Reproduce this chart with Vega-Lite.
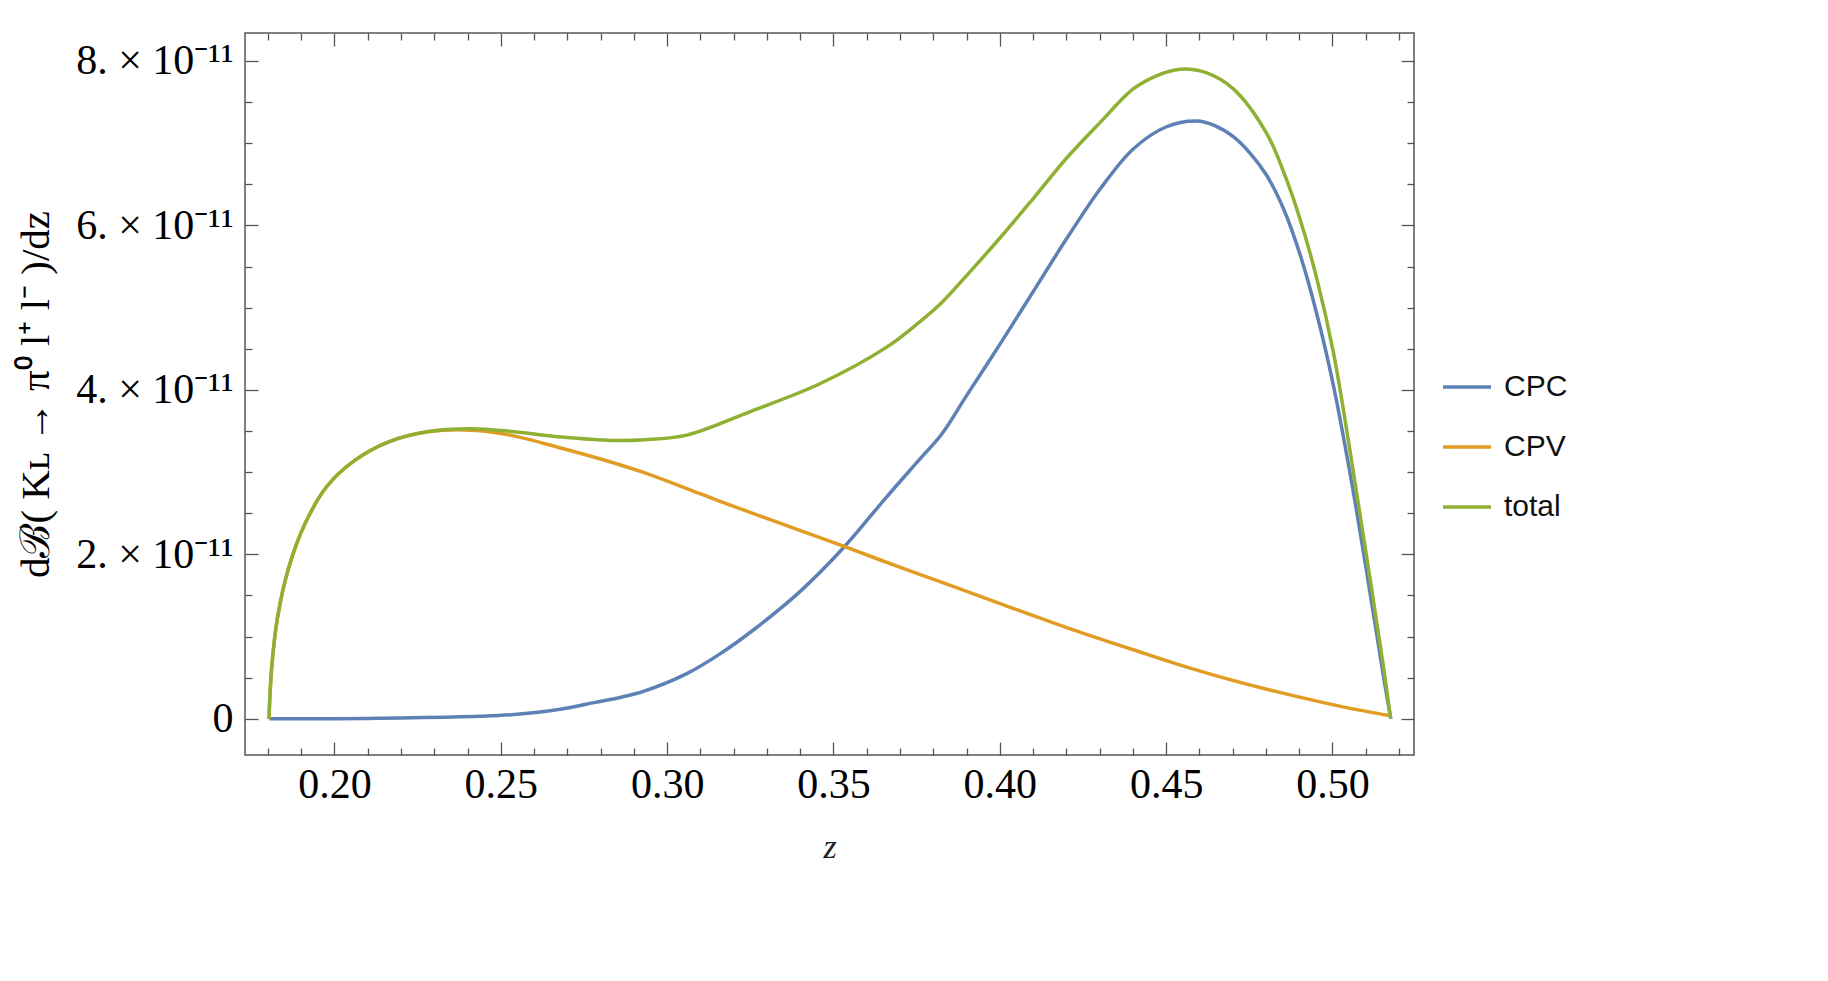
{
  "$schema": "https://vega.github.io/schema/vega-lite/v6.json",
  "width": 1169,
  "height": 722,
  "autosize": {"type": "none"},
  "padding": {"left": 245, "top": 33, "right": 414, "bottom": 226},
  "background": "white",
  "config": {
    "view": {"stroke": "#555555", "strokeWidth": 1.5},
    "axis": {"grid": false, "domain": false, "tickColor": "#555555", "tickWidth": 1.3}
  },
  "data": {"values": [
    {"series": "CPC", "z": 0.1804, "v": 0},
    {"series": "CPC", "z": 0.19, "v": 0},
    {"series": "CPC", "z": 0.20, "v": 0.002},
    {"series": "CPC", "z": 0.21, "v": 0.005},
    {"series": "CPC", "z": 0.22, "v": 0.01},
    {"series": "CPC", "z": 0.233, "v": 0.02},
    {"series": "CPC", "z": 0.2432, "v": 0.03},
    {"series": "CPC", "z": 0.2532, "v": 0.05},
    {"series": "CPC", "z": 0.2683, "v": 0.12},
    {"series": "CPC", "z": 0.2783, "v": 0.2},
    {"series": "CPC", "z": 0.2858, "v": 0.26},
    {"series": "CPC", "z": 0.2933, "v": 0.34},
    {"series": "CPC", "z": 0.3059, "v": 0.55},
    {"series": "CPC", "z": 0.3159, "v": 0.79},
    {"series": "CPC", "z": 0.3259, "v": 1.08},
    {"series": "CPC", "z": 0.34, "v": 1.55},
    {"series": "CPC", "z": 0.353, "v": 2.08},
    {"series": "CPC", "z": 0.366, "v": 2.70},
    {"series": "CPC", "z": 0.376, "v": 3.16},
    {"series": "CPC", "z": 0.3825, "v": 3.46},
    {"series": "CPC", "z": 0.39, "v": 3.93},
    {"series": "CPC", "z": 0.4001, "v": 4.56},
    {"series": "CPC", "z": 0.4101, "v": 5.2},
    {"series": "CPC", "z": 0.4201, "v": 5.84},
    {"series": "CPC", "z": 0.4301, "v": 6.44},
    {"series": "CPC", "z": 0.4401, "v": 6.93},
    {"series": "CPC", "z": 0.4501, "v": 7.2},
    {"series": "CPC", "z": 0.4591, "v": 7.27},
    {"series": "CPC", "z": 0.4646, "v": 7.215},
    {"series": "CPC", "z": 0.4702, "v": 7.08},
    {"series": "CPC", "z": 0.4752, "v": 6.88},
    {"series": "CPC", "z": 0.4802, "v": 6.61},
    {"series": "CPC", "z": 0.4853, "v": 6.2},
    {"series": "CPC", "z": 0.4903, "v": 5.64},
    {"series": "CPC", "z": 0.4953, "v": 4.92},
    {"series": "CPC", "z": 0.5003, "v": 4.05},
    {"series": "CPC", "z": 0.5053, "v": 2.98},
    {"series": "CPC", "z": 0.5103, "v": 1.78},
    {"series": "CPC", "z": 0.5153, "v": 0.52},
    {"series": "CPC", "z": 0.5175, "v": 0},
    {"series": "CPV", "z": 0.1803, "v": 0},
    {"series": "CPV", "z": 0.1811, "v": 0.61},
    {"series": "CPV", "z": 0.1828, "v": 1.213},
    {"series": "CPV", "z": 0.186, "v": 1.805},
    {"series": "CPV", "z": 0.1912, "v": 2.377},
    {"series": "CPV", "z": 0.1978, "v": 2.831},
    {"series": "CPV", "z": 0.2061, "v": 3.143},
    {"series": "CPV", "z": 0.2161, "v": 3.366},
    {"series": "CPV", "z": 0.2282, "v": 3.49},
    {"series": "CPV", "z": 0.2412, "v": 3.51},
    {"series": "CPV", "z": 0.2532, "v": 3.447},
    {"series": "CPV", "z": 0.2683, "v": 3.29},
    {"series": "CPV", "z": 0.2833, "v": 3.12},
    {"series": "CPV", "z": 0.2933, "v": 2.99},
    {"series": "CPV", "z": 0.3059, "v": 2.80},
    {"series": "CPV", "z": 0.3159, "v": 2.645},
    {"series": "CPV", "z": 0.3345, "v": 2.37},
    {"series": "CPV", "z": 0.353, "v": 2.10},
    {"series": "CPV", "z": 0.3695, "v": 1.85},
    {"series": "CPV", "z": 0.386, "v": 1.61},
    {"series": "CPV", "z": 0.4001, "v": 1.40},
    {"series": "CPV", "z": 0.4201, "v": 1.11},
    {"series": "CPV", "z": 0.4401, "v": 0.84},
    {"series": "CPV", "z": 0.4602, "v": 0.58},
    {"series": "CPV", "z": 0.4802, "v": 0.36},
    {"series": "CPV", "z": 0.5003, "v": 0.17},
    {"series": "CPV", "z": 0.5168, "v": 0.04},
    {"series": "total", "z": 0.1803, "v": 0},
    {"series": "total", "z": 0.1811, "v": 0.61},
    {"series": "total", "z": 0.1828, "v": 1.213},
    {"series": "total", "z": 0.186, "v": 1.805},
    {"series": "total", "z": 0.1912, "v": 2.377},
    {"series": "total", "z": 0.1978, "v": 2.831},
    {"series": "total", "z": 0.2061, "v": 3.143},
    {"series": "total", "z": 0.2161, "v": 3.366},
    {"series": "total", "z": 0.2282, "v": 3.495},
    {"series": "total", "z": 0.2412, "v": 3.528},
    {"series": "total", "z": 0.2532, "v": 3.495},
    {"series": "total", "z": 0.2683, "v": 3.426},
    {"series": "total", "z": 0.2833, "v": 3.385},
    {"series": "total", "z": 0.2933, "v": 3.394},
    {"series": "total", "z": 0.3059, "v": 3.45},
    {"series": "total", "z": 0.3259, "v": 3.751},
    {"series": "total", "z": 0.3459, "v": 4.075},
    {"series": "total", "z": 0.366, "v": 4.52},
    {"series": "total", "z": 0.376, "v": 4.83},
    {"series": "total", "z": 0.3825, "v": 5.06},
    {"series": "total", "z": 0.39, "v": 5.39},
    {"series": "total", "z": 0.4001, "v": 5.85},
    {"series": "total", "z": 0.4101, "v": 6.33},
    {"series": "total", "z": 0.4201, "v": 6.82},
    {"series": "total", "z": 0.4301, "v": 7.25},
    {"series": "total", "z": 0.4401, "v": 7.66},
    {"series": "total", "z": 0.4471, "v": 7.82},
    {"series": "total", "z": 0.4542, "v": 7.90},
    {"series": "total", "z": 0.4622, "v": 7.855},
    {"series": "total", "z": 0.4702, "v": 7.66},
    {"series": "total", "z": 0.4802, "v": 7.12},
    {"series": "total", "z": 0.4853, "v": 6.65},
    {"series": "total", "z": 0.4903, "v": 6.07},
    {"series": "total", "z": 0.4953, "v": 5.35},
    {"series": "total", "z": 0.5003, "v": 4.45},
    {"series": "total", "z": 0.5053, "v": 3.25},
    {"series": "total", "z": 0.5103, "v": 1.96},
    {"series": "total", "z": 0.5153, "v": 0.64},
    {"series": "total", "z": 0.5175, "v": 0}
  ]},
  "resolve": {"axis": {"x": "independent", "y": "independent"}},
  "layer": [
    {
      "mark": {"type": "line", "strokeWidth": 3.5, "interpolate": "catmull-rom"},
      "encoding": {
        "x": {
          "field": "z", "type": "quantitative",
          "scale": {"domain": [0.1731, 0.5245], "nice": false, "zero": false},
          "axis": {
            "orient": "bottom",
            "values": [0.18,0.19,0.20,0.21,0.22,0.23,0.24,0.25,0.26,0.27,0.28,0.29,0.30,0.31,0.32,0.33,0.34,0.35,0.36,0.37,0.38,0.39,0.40,0.41,0.42,0.43,0.44,0.45,0.46,0.47,0.48,0.49,0.50,0.51,0.52],
            "tickSize": {"condition": {"test": "abs(round(datum.value*100)) % 5 == 0", "value": -13}, "value": -7},
            "labelExpr": "abs(round(datum.value*100)) % 5 == 0 ? format(datum.value, '.2f') : ''",
            "labelFont": "Liberation Serif", "labelFontSize": 42, "labelColor": "#000000",
            "labelPadding": 22, "labelOverlap": false, "labelFlush": false, "labelBound": false,
            "title": "z",
            "titleFont": "Liberation Serif", "titleFontStyle": "italic", "titleFontWeight": "normal",
            "titleFontSize": 34, "titleColor": "#222222", "titlePadding": 19
          }
        },
        "y": {
          "field": "v", "type": "quantitative",
          "scale": {"domain": [-0.44, 8.34], "nice": false, "zero": false},
          "axis": {
            "orient": "left",
            "values": [0,0.5,1,1.5,2,2.5,3,3.5,4,4.5,5,5.5,6,6.5,7,7.5,8],
            "tickSize": {"condition": {"test": "round(datum.value*2) % 4 == 0", "value": -13}, "value": -7},
            "labelExpr": "datum.value == 0 ? '0' : (round(datum.value*2) % 4 == 0 ? round(datum.value) + '. × 10⁻¹¹' : '')",
            "labelFont": "Liberation Serif", "labelFontSize": 42, "labelColor": "#000000",
            "labelPadding": 25, "labelOverlap": false, "labelFlush": false, "labelBound": false,
            "title": "dℬ( Kʟ → π⁰ l⁺ l⁻ )/dz",
            "titleFont": "Liberation Serif", "titleFontWeight": "normal",
            "titleFontSize": 41, "titleColor": "#000000", "titlePadding": 18
          }
        },
        "color": {
          "field": "series", "type": "nominal",
          "scale": {"domain": ["CPC", "CPV", "total"], "range": ["#5E81B5", "#E19C24", "#8FB032"]},
          "legend": {
            "orient": "none", "legendX": 1196, "legendY": 328, "title": null,
            "symbolType": "stroke", "symbolSize": 2304, "symbolStrokeWidth": 3.5,
            "labelFont": "Liberation Sans", "labelFontSize": 30, "labelColor": "#111111",
            "labelOffset": 11, "rowPadding": 19, "padding": 0
          }
        }
      }
    },
    {
      "mark": {"type": "point", "opacity": 0},
      "encoding": {
        "x": {
          "field": "z", "type": "quantitative",
          "axis": {
            "orient": "top",
            "values": [0.18,0.19,0.20,0.21,0.22,0.23,0.24,0.25,0.26,0.27,0.28,0.29,0.30,0.31,0.32,0.33,0.34,0.35,0.36,0.37,0.38,0.39,0.40,0.41,0.42,0.43,0.44,0.45,0.46,0.47,0.48,0.49,0.50,0.51,0.52],
            "tickSize": {"condition": {"test": "abs(round(datum.value*100)) % 5 == 0", "value": -13}, "value": -7},
            "labels": false, "title": null
          }
        },
        "y": {
          "field": "v", "type": "quantitative",
          "axis": {
            "orient": "right",
            "values": [0,0.5,1,1.5,2,2.5,3,3.5,4,4.5,5,5.5,6,6.5,7,7.5,8],
            "tickSize": {"condition": {"test": "round(datum.value*2) % 4 == 0", "value": -13}, "value": -7},
            "labels": false, "title": null
          }
        }
      }
    }
  ]
}
